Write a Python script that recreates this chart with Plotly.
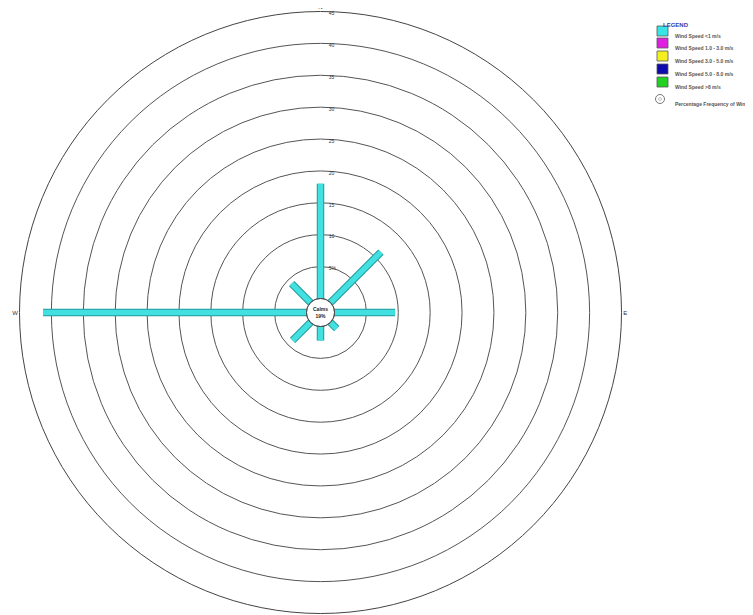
import plotly.graph_objects as go

# ---- data ----
directions = ["N", "NE", "E", "SE", "S", "SW", "W", "NW"]
dir_angles = [0, 45, 90, 135, 180, 225, 270, 315]
freq_lt1 = [18.0, 11.2, 9.5, 1.4, 2.2, 4.0, 41.3, 4.2]   # % frequency, wind speed < 1 m/s
calms_pct = 19
ring_vals = [5, 10, 15, 20, 25, 30, 35, 40, 45]
ring_text = ["5%", "10", "15", "20", "25", "30", "35", "40", "45"]
legend_names = ["Wind Speed <1 m/s", "Wind Speed 1.0 - 3.0 m/s", "Wind Speed 3.0 - 5.0 m/s",
                "Wind Speed 5.0 - 8.0 m/s", "Wind Speed >8 m/s"]
legend_colors = ["#38e4e4", "#e020e0", "#f4f020", "#0a0aae", "#22d222"]
freq_label = "Percentage Frequency of Wind"

# page geometry (plot is placed 8px in from the page corner)
PW, PH, OFF = 753, 615, 8
def fx(X):
    return (X - OFF) / PW
def fy(Y):
    return 1 - (Y - OFF) / PH

fig = go.Figure()

r_seg, t_seg = [], []
for a, v in zip(dir_angles, freq_lt1):
    r_seg += [0, v, None]
    t_seg += [a, a, None]

fig.add_trace(go.Scatterpolar(r=r_seg, theta=t_seg, mode="lines",
                              line=dict(color="#239a9c", width=7.5),
                              showlegend=False, hoverinfo="skip"))
fig.add_trace(go.Scatterpolar(r=r_seg, theta=t_seg, mode="lines",
                              line=dict(color="#42e0e0", width=5.5),
                              showlegend=False, hoverinfo="skip"))

circ_t = list(range(0, 361, 5))
fig.add_trace(go.Scatterpolar(r=[0] * len(circ_t), theta=circ_t, mode="lines",
                              line=dict(color="#333333", width=1),
                              showlegend=False, hoverinfo="skip"))

# ring labels
fig.add_trace(go.Scatterpolar(r=ring_vals, theta=[0] * len(ring_vals), mode="text",
                              text=["\u00a0" * 6 + t for t in ring_text],
                              textposition="bottom right",
                              textfont=dict(size=5, color="#333333"),
                              showlegend=False, hoverinfo="skip"))

shapes = []
annotations = [dict(x=fx(320), y=fy(312), xref="paper", yref="paper",
                    text=f"<b>Calms<br>{calms_pct}%</b>", showarrow=False,
                    font=dict(size=5, color="#222222")),
               dict(x=fx(661), y=fy(20), xref="paper", yref="paper", xanchor="left",
                    text="<b>LEGEND</b>", showarrow=False,
                    font=dict(size=6, color="#3040b0"))]
item_y = [31, 43, 56, 69, 82]
for yc, name, col in zip(item_y, legend_names, legend_colors):
    shapes.append(dict(type="rect", xref="paper", yref="paper",
                       x0=fx(657), x1=fx(668), y0=fy(yc + 5), y1=fy(yc - 5),
                       fillcolor=col, line=dict(color="#555555", width=0.8)))
    annotations.append(dict(x=fx(673), y=fy(yc), xref="paper", yref="paper",
                            xanchor="left", text=f"<b>{name}</b>", showarrow=False,
                            font=dict(size=5, color="#555555")))
shapes.append(dict(type="circle", xref="paper", yref="paper",
                   x0=fx(655.5), x1=fx(664.5), y0=fy(103.5), y1=fy(94.5),
                   line=dict(color="#777777", width=1)))
shapes.append(dict(type="circle", xref="paper", yref="paper",
                   x0=fx(658.5), x1=fx(661.5), y0=fy(100.5), y1=fy(97.5),
                   line=dict(color="#999999", width=0.6)))
annotations.append(dict(x=fx(673), y=fy(99), xref="paper", yref="paper",
                        xanchor="left", text=f"<b>{freq_label}</b>", showarrow=False,
                        font=dict(size=5, color="#555555")))

fig.update_layout(
    width=PW, height=PH,
    margin=dict(l=0, r=0, t=0, b=0),
    paper_bgcolor="white",
    showlegend=False,
    font=dict(family="Liberation Sans, Arial, sans-serif", size=6, color="#222222"),
    polar=dict(
        domain=dict(x=[fx(19.5), fx(621.5)], y=[fy(613.5), fy(11.5)]),
        bgcolor="white",
        hole=14 / 301,
        radialaxis=dict(range=[0, 45], tickvals=ring_vals, showticklabels=False,
                        angle=90, showline=False, ticks="", gridcolor="#555555", gridwidth=0.8),
        angularaxis=dict(rotation=90, direction="clockwise",
                         tickvals=[0, 90, 180, 270], ticktext=["N", "E", "S", "W"],
                         showgrid=False, showline=True, linecolor="#444444", linewidth=1,
                         ticks="", tickfont=dict(size=6, color="#333333")),
    ),
    shapes=shapes,
    annotations=annotations,
)

fig.write_html("out.html")
